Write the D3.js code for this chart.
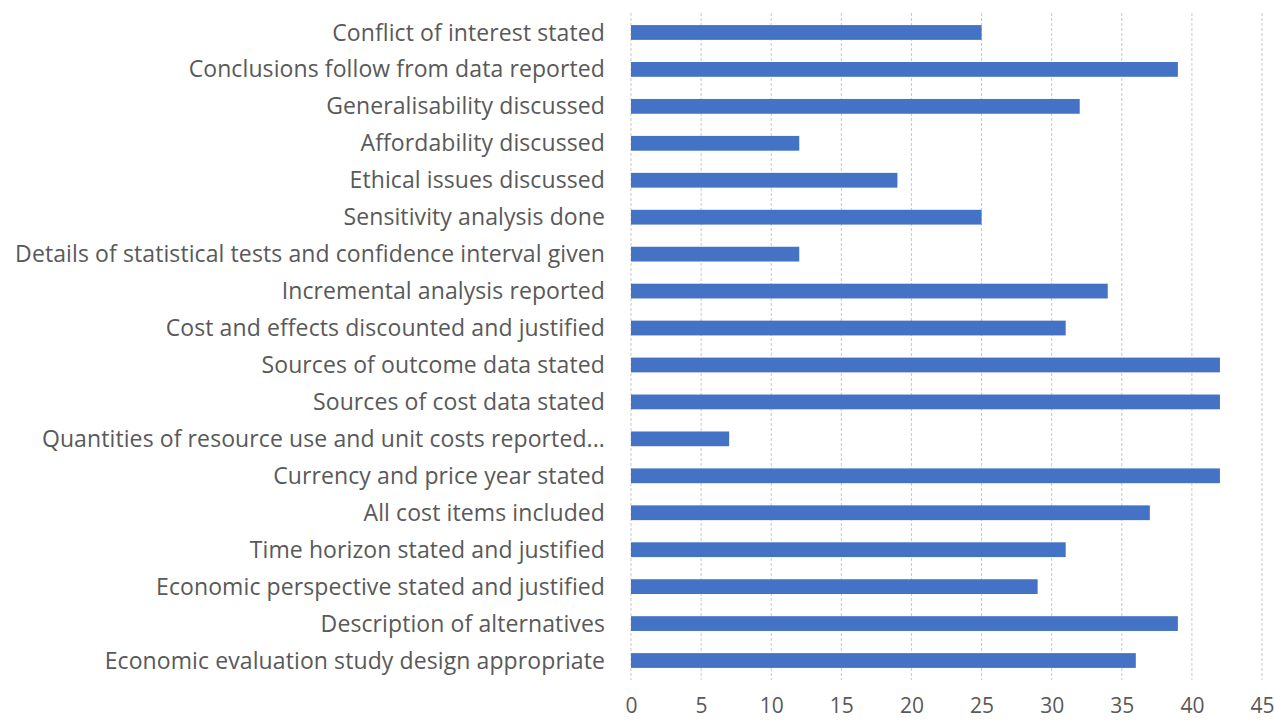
<!DOCTYPE html>
<html>
<head>
<meta charset="utf-8">
<script src="https://cdn.jsdelivr.net/npm/d3@7"></script>
<style>
  body { margin: 0; background: #fff; }
  text { font-family: "Open Sans", sans-serif; fill: #595959; }
</style>
</head>
<body>
<svg id="chart" width="1274" height="722"></svg>
<script>
// categories from top to bottom
const categories = [
  "Conflict of interest stated",
  "Conclusions follow from data reported",
  "Generalisability discussed",
  "Affordability discussed",
  "Ethical issues discussed",
  "Sensitivity analysis done",
  "Details of statistical tests and confidence interval given",
  "Incremental analysis reported",
  "Cost and effects discounted and justified",
  "Sources of outcome data stated",
  "Sources of cost data stated",
  "Quantities of resource use and unit costs reported...",
  "Currency and price year stated",
  "All cost items included",
  "Time horizon stated and justified",
  "Economic perspective stated and justified",
  "Description of alternatives",
  "Economic evaluation study design appropriate"
];
const counts = [25, 39, 32, 12, 19, 25, 12, 34, 31, 42, 42, 7, 42, 37, 31, 29, 39, 36];
const xTicks = [0, 5, 10, 15, 20, 25, 30, 35, 40, 45];

const svg = d3.select("#chart");

const x = d3.scaleLinear().domain([0, 45]).range([631, 1262]);
const y = d3.scaleBand().domain(categories).range([14, 679]).paddingInner(0.6).paddingOuter(0.3);

// gridlines
svg.append("g")
  .selectAll("line")
  .data(xTicks)
  .enter().append("line")
  .attr("x1", d => x(d)).attr("x2", d => x(d))
  .attr("y1", 13).attr("y2", 680)
  .attr("stroke", "#c8c8c8")
  .attr("stroke-width", 1)
  .attr("stroke-dasharray", "3,2");

// bars
svg.append("g")
  .selectAll("rect")
  .data(categories)
  .enter().append("rect")
  .attr("x", x(0))
  .attr("y", d => y(d))
  .attr("width", (d, i) => x(counts[i]) - x(0))
  .attr("height", y.bandwidth())
  .attr("fill", "#4472C4");

// category labels
svg.append("g")
  .selectAll("text")
  .data(categories)
  .enter().append("text")
  .attr("x", 605)
  .attr("y", d => y(d) + y.bandwidth() / 2)
  .attr("dy", "0.35em")
  .attr("text-anchor", "end")
  .attr("font-size", 23)
  .attr("letter-spacing", 0.1)
  .text(d => d);

// x axis tick labels
const xAxis = svg.append("g")
  .attr("transform", "translate(0,680)")
  .call(d3.axisBottom(x).tickValues(xTicks).tickSize(0).tickPadding(18));
xAxis.select(".domain").remove();
xAxis.selectAll("text")
  .attr("font-size", 21)
  .attr("font-family", "Open Sans, sans-serif")
  .style("fill", "#595959");
</script>
</body>
</html>
